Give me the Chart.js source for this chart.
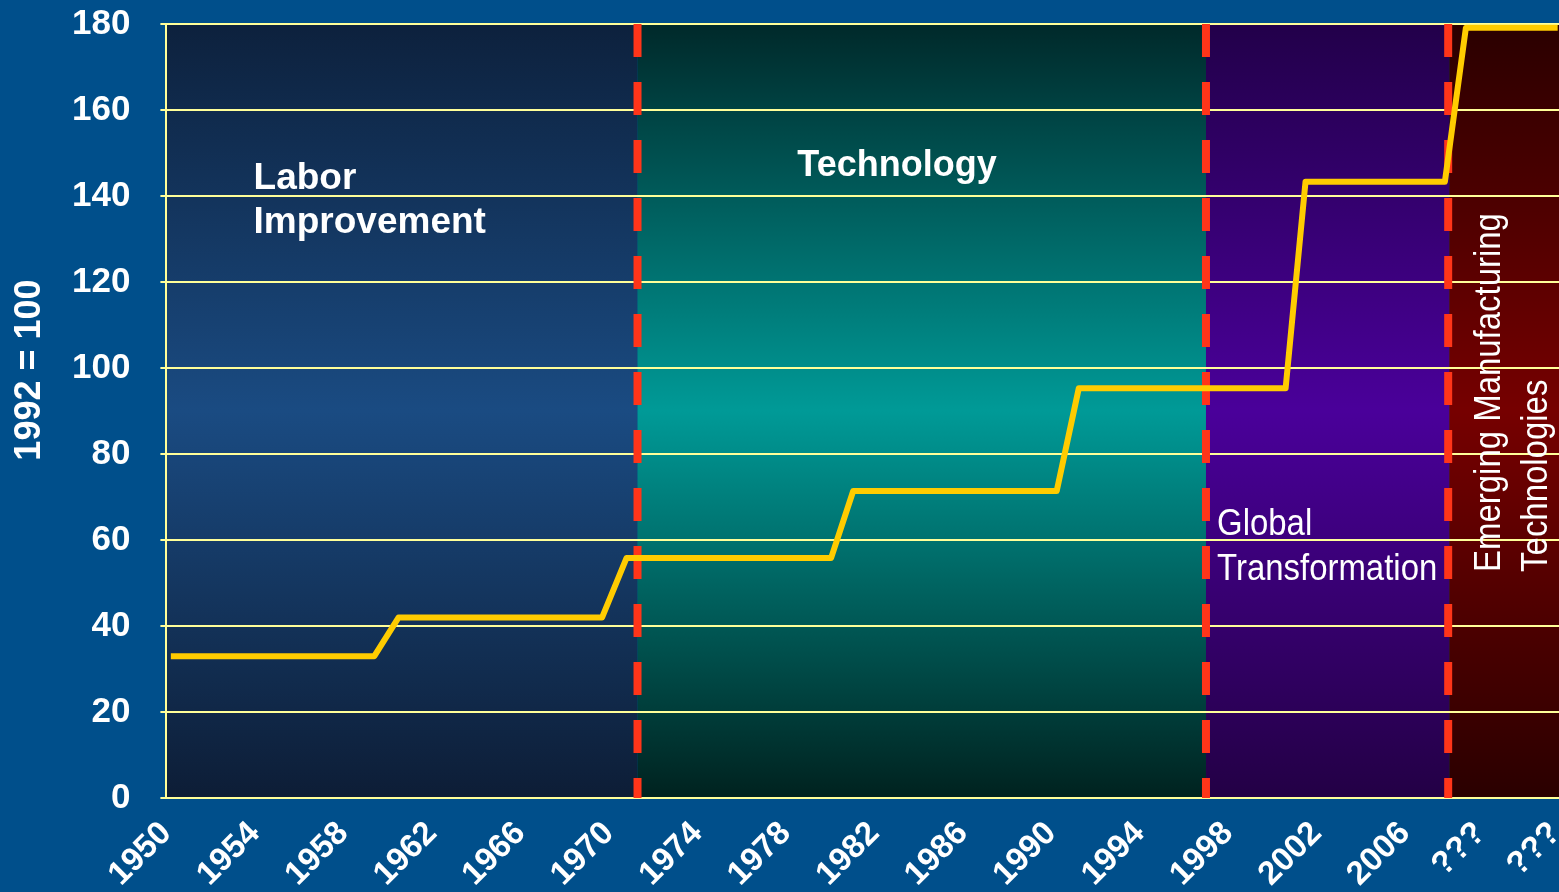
<!DOCTYPE html>
<html>
<head>
<meta charset="utf-8">
<script src="https://cdn.jsdelivr.net/npm/chart.js@4.4.1/dist/chart.umd.min.js"></script>
<style>
  html, body { margin: 0; padding: 0; background: #004f8b; overflow: hidden; }
  #wrap { width: 1559px; height: 892px; overflow: hidden; position: relative; }
  canvas { display: block; position: absolute; left: 0; top: -27px; }
</style>
</head>
<body>
<div id="wrap"><canvas id="grafico" width="1592" height="929"></canvas></div>
<script>
// productivity index, 1992 = 100 (step line)
const anos = [1950.2, 1959.4, 1960.5, 1969.7, 1970.8, 1980.05, 1981.05, 1990.25, 1991.25, 2000.6, 2001.5, 2007.8, 2008.75, 2012.9];
const indice = [33, 33, 42, 42, 55.8, 55.8, 71.4, 71.4, 95.3, 95.3, 143.3, 143.3, 179.1, 179.1];

// x axis tick labels
const tickPos = [1950, 1954, 1958, 1962, 1966, 1970, 1974, 1978, 1982, 1986, 1990, 1994, 1998, 2002, 2006, 2009.4, 2012.8];
const tickTxt = ["1950", "1954", "1958", "1962", "1966", "1970", "1974", "1978", "1982", "1986", "1990", "1994", "1998", "2002", "2006", "???", "???"];

// eras
const eraInicio = [1950, 1971.3, 1997.0, 2008.0];
const eraFim = [1971.3, 1997.0, 2008.0, 2014];
const eraTopo = ["#0d213d", "#00292a", "#22004a", "#2a0000"];
const eraMeio = ["#1a4b82", "#009a97", "#4a009a", "#760000"];
const eraBase = ["#0d1d36", "#00221f", "#230045", "#2a0000"];
const divisas = [1971.3, 1997.0, 2007.95];

// era labels
const rotulos = [
  { linhas: ["Labor", "Improvement"], x: 1953.94, y: [141.6, 131.4], fonte: "bold 37px 'Liberation Sans', Arial, sans-serif", align: "left", esc: 1 },
  { linhas: ["Technology"], x: 1983.03, y: [144.7], fonte: "bold 36px 'Liberation Sans', Arial, sans-serif", align: "center", esc: 1 },
  { linhas: ["Global", "Transformation"], x: 1997.5, y: [61.2, 50.7], fonte: "37px 'Liberation Sans', Arial, sans-serif", align: "left", esc: 0.89 }
];
const rotuloVertical = { linhas: ["Emerging Manufacturing", "Technologies"], x: [2010.3, 2012.4], y: 52.6 };
const tituloY = "1992 = 100";

const eras = {
  id: "eras",
  beforeDraw(chart) {
    const { ctx, chartArea: a, scales: { x } } = chart;
    ctx.save();
    for (let i = 0; i < eraInicio.length; i++) {
      const x0 = x.getPixelForValue(eraInicio[i]);
      const x1 = Math.min(x.getPixelForValue(eraFim[i]), a.right);
      const g = ctx.createLinearGradient(0, a.top, 0, a.bottom);
      g.addColorStop(0, eraTopo[i]);
      g.addColorStop(0.5, eraMeio[i]);
      g.addColorStop(1, eraBase[i]);
      ctx.fillStyle = g;
      ctx.fillRect(x0, a.top, x1 - x0, a.bottom - a.top);
    }
    ctx.restore();
  },
  beforeDatasetsDraw(chart) {
    const { ctx, chartArea: a, scales: { x } } = chart;
    ctx.save();
    ctx.strokeStyle = "#ff3519";
    ctx.lineWidth = 8;
    ctx.setLineDash([33, 25]);
    divisas.forEach(v => {
      const px = x.getPixelForValue(v);
      ctx.beginPath();
      ctx.moveTo(px, a.top);
      ctx.lineTo(px, a.bottom);
      ctx.stroke();
    });
    ctx.restore();
  },
  afterDatasetsDraw(chart) {
    const { ctx, chartArea: a, scales: { x, y } } = chart;
    ctx.save();
    ctx.fillStyle = "#ffffff";
    ctx.textBaseline = "alphabetic";
    rotulos.forEach(r => {
      ctx.font = r.fonte;
      ctx.textAlign = r.align;
      r.linhas.forEach((t, i) => {
        ctx.save();
        ctx.translate(x.getPixelForValue(r.x), y.getPixelForValue(r.y[i]));
        ctx.scale(r.esc, 1);
        ctx.fillText(t, 0, 0);
        ctx.restore();
      });
    });
    ctx.font = "37px 'Liberation Sans', Arial, sans-serif";
    ctx.textAlign = "left";
    rotuloVertical.linhas.forEach((t, i) => {
      ctx.save();
      ctx.translate(x.getPixelForValue(rotuloVertical.x[i]), y.getPixelForValue(rotuloVertical.y));
      ctx.rotate(-Math.PI / 2);
      ctx.scale(0.89, 1);
      ctx.fillText(t, 0, 0);
      ctx.restore();
    });
    // axis title (sits a bit above the axis centre in the original)
    ctx.font = "bold 36px 'Liberation Sans', Arial, sans-serif";
    ctx.textAlign = "center";
    ctx.textBaseline = "middle";
    ctx.translate(a.left - 136, (a.top + a.bottom) / 2 - 41);
    ctx.rotate(-Math.PI / 2);
    ctx.fillText(tituloY, 0, 0);
    ctx.restore();
  }
};

Chart.defaults.font.family = "'Liberation Sans', Arial, sans-serif";
Chart.defaults.color = "#ffffff";

new Chart(document.getElementById("grafico").getContext("2d"), {
  type: "line",
  data: {
    datasets: [{
      data: anos.map((a, i) => ({ x: a, y: indice[i] })),
      borderColor: "#ffcc00",
      borderWidth: 6,
      pointRadius: 0,
      tension: 0,
      borderJoinStyle: "round",
      fill: false
    }]
  },
  options: {
    responsive: false,
    animation: false,
    layout: { padding: { top: 4, left: 42, right: 10, bottom: 0 } },
    plugins: { legend: { display: false }, tooltip: { enabled: false } },
    scales: {
      x: {
        type: "linear",
        min: 1950,
        max: 2014,
        afterBuildTicks: s => { s.ticks = tickPos.map(v => ({ value: v })); },
        ticks: {
          autoSkip: false,
          minRotation: 45,
          maxRotation: 45,
          padding: 8,
          color: "#ffffff",
          font: { size: 33, weight: "bold" },
          callback: (v, i) => tickTxt[i]
        },
        grid: { display: false },
        border: { display: false }
      },
      y: {
        min: 0,
        max: 180,
        ticks: {
          stepSize: 20,
          padding: 30,
          color: "#ffffff",
          font: { size: 35, weight: "bold" }
        },
        grid: { color: "#ffff99", lineWidth: 2, tickLength: 6 },
        border: { color: "#ffff99", width: 2 }
      }
    }
  },
  plugins: [eras]
});
</script>
</body>
</html>
